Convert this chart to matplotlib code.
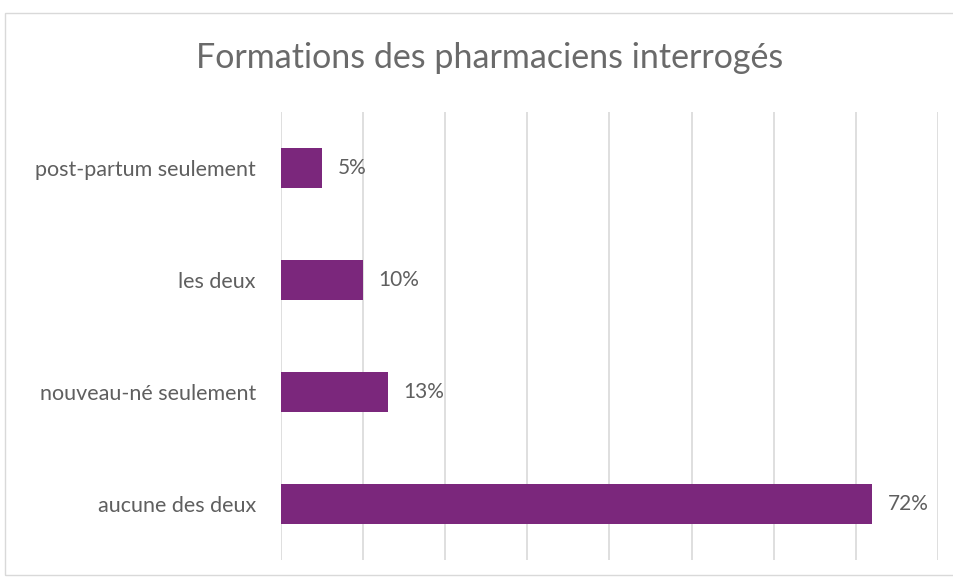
import matplotlib.pyplot as plt
from matplotlib.patches import Rectangle

categories = ['aucune des deux', 'nouveau-né seulement', 'les deux', 'post-partum seulement']
values = [72, 13, 10, 5]
ticks = [0, 10, 20, 30, 40, 50, 60, 70, 80]

plt.rcParams['font.family'] = ['Lato', 'DejaVu Sans']
text_color = '#5F5F5F'
bar_color = '#7B277C'

fig = plt.figure(figsize=(9.54, 5.81), dpi=100)
ax = fig.add_axes([281 / 954, 1 - 560 / 581, (938 - 281) / 954, (560 - 112) / 581])

ax.barh(range(len(categories)), values, height=0.35, color=bar_color, zorder=3)
for i, v in enumerate(values):
    ax.text(v + 1.9, i, f'{v}%', va='center', ha='left', fontsize=15, color=text_color)

ax.set_xlim(0, 80)
ax.set_ylim(-0.5, 3.5)
ax.set_xticks(ticks)
ax.set_xticklabels([])
ax.tick_params(axis='x', length=0)
ax.set_yticks(range(len(categories)))
ax.set_yticklabels(categories, fontsize=15.5, color=text_color)
ax.tick_params(axis='y', length=0, pad=18)
ax.grid(axis='x', color='#D9D9D9', linewidth=1.2, zorder=0)
for s in ax.spines.values():
    s.set_visible(False)

fig.text(490 / 954, 1 - 58 / 581, 'Formations des pharmaciens interrogés',
         ha='center', va='center', fontsize=24.5, color='#6A6A6A')

# chart border
fig.patches.append(Rectangle((5 / 954, 6 / 581), 1.2, 1 - 19 / 581, transform=fig.transFigure,
                             fill=False, edgecolor='#D9D9D9', linewidth=1))

fig.savefig('out.png', dpi=100)
